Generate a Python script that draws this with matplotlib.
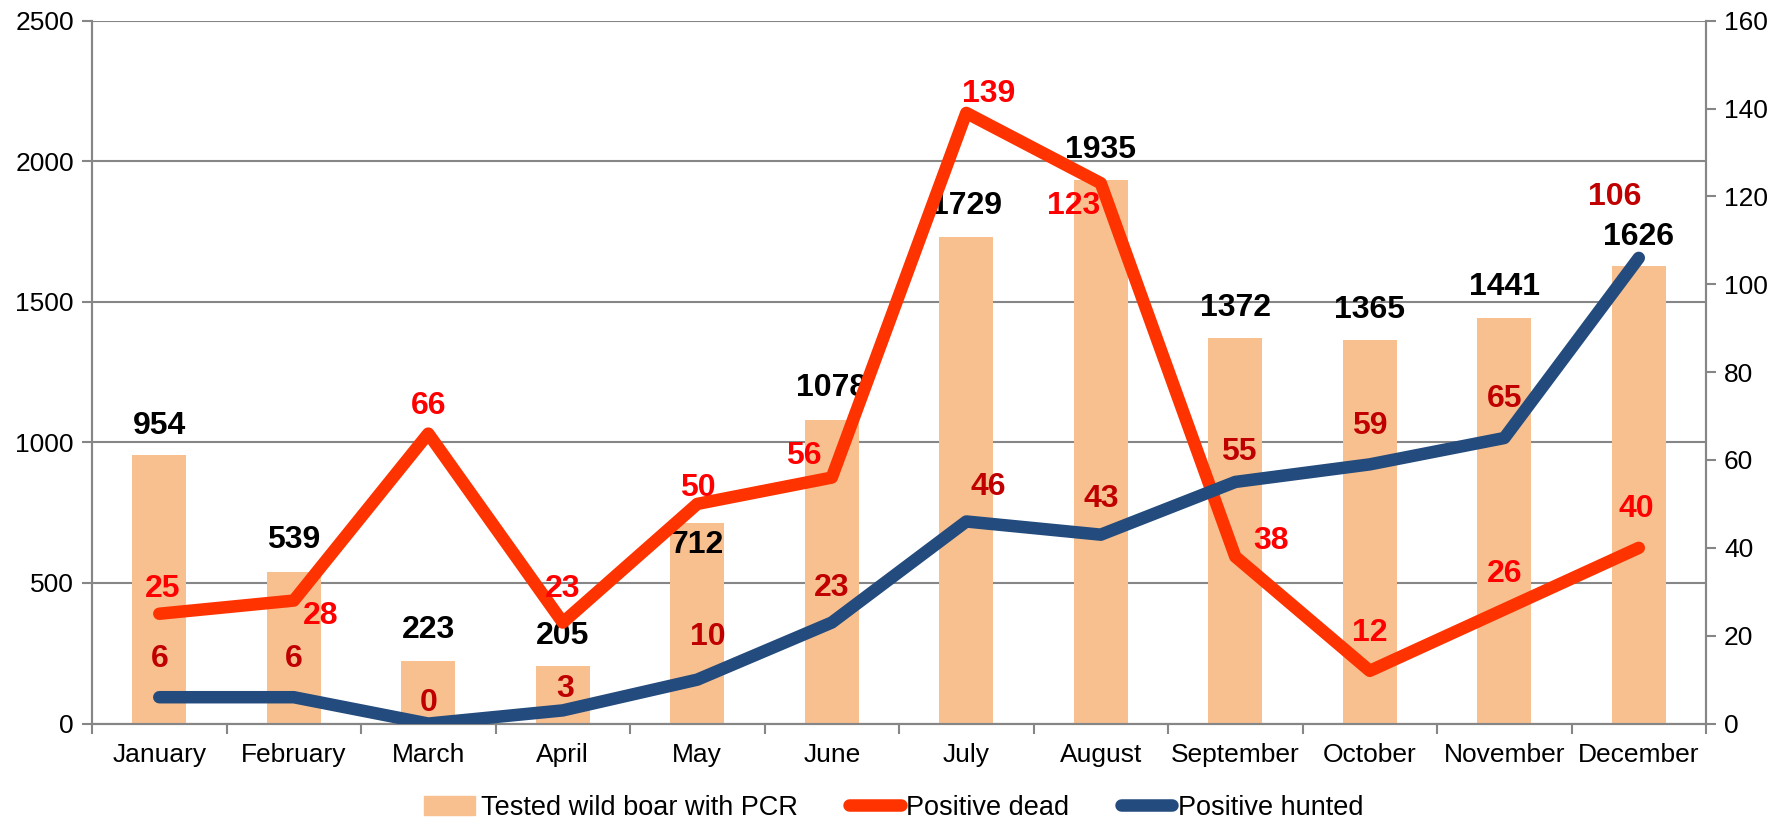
import numpy as np
import matplotlib.pyplot as plt
from matplotlib.lines import Line2D
from matplotlib.patches import Patch

plt.rcParams['font.family'] = ['Liberation Sans', 'DejaVu Sans']

months = ["January", "February", "March", "April", "May", "June",
          "July", "August", "September", "October", "November", "December"]
tested = [954, 539, 223, 205, 712, 1078, 1729, 1935, 1372, 1365, 1441, 1626]
pos_dead = [25, 28, 66, 23, 50, 56, 139, 123, 38, 12, 26, 40]
pos_hunted = [6, 6, 0, 3, 10, 23, 46, 43, 55, 59, 65, 106]

colour_bar = "#F9C08F"
colour_dead = "#FF3300"
colour_hunted = "#234B7D"
colour_grid = "#868686"
colour_lab_dead = "#FF0000"
colour_lab_hunted = "#C00000"

# label offsets in pixels (dx, dy), placed by hand like in the original
tested_off = [(0, 29), (0, 32), (0, 31), (0, 30), (0, -22), (0, 32),
              (0, 31), (0, 30), (0, 30), (0, 30), (0, 31), (0, 29)]
dead_off = [(3, 25), (27, -15), (0, 28), (0, 34), (1, 16), (-28, 22),
            (22, 19), (-27, -23), (36, 16), (0, 38), (0, 35), (-2, 39)]
hunted_off = [(0, 38), (0, 38), (0, 21), (2, 21), (11, 43), (0, 35),
              (22, 34), (0, 36), (3, 30), (0, 38), (0, 39), (-24, 61)]

x = np.arange(len(months))

fig = plt.figure(figsize=(17.87, 8.26), dpi=100)
ax = fig.add_axes([0.0515, 0.124, 0.9032, 0.851])
ax2 = ax.twinx()

ax.bar(x, tested, width=0.4, color=colour_bar, zorder=2)
ax.set_ylim(0, 2500)
ax.set_yticks(np.arange(0, 2501, 500))
ax.set_xlim(-0.5, len(months) - 0.5)
ax.yaxis.grid(True, color=colour_grid, linewidth=1.5, zorder=0)
ax.set_axisbelow(True)

ax.set_xticks(x)
ax.set_xticklabels(months)
ax.set_xticks(np.arange(-0.5, len(months)), minor=True)
ax.tick_params(axis='x', which='major', length=0, labelsize=19, pad=14)
ax.tick_params(axis='x', which='minor', length=7, width=1.5, color=colour_grid)
ax.tick_params(axis='y', length=7, width=1.5, color=colour_grid, labelsize=19, pad=6)

ax2.plot(x, pos_dead, color=colour_dead, lw=9, solid_capstyle='round', solid_joinstyle='round', zorder=3)
ax2.plot(x, pos_hunted, color=colour_hunted, lw=9, solid_capstyle='round', solid_joinstyle='round', zorder=3)
ax2.set_ylim(0, 160)
ax2.set_yticks(np.arange(0, 161, 20))
ax2.tick_params(axis='y', length=7, width=1.5, color=colour_grid, labelsize=19, pad=6)

for a in (ax, ax2):
    for s in a.spines.values():
        s.set_color(colour_grid)
        s.set_linewidth(1.5)
    a.spines['top'].set_visible(False)

for i, v in enumerate(tested):
    ax.annotate(str(v), (x[i], v), xytext=tested_off[i], textcoords='offset pixels',
                ha='center', va='center', fontsize=23, fontweight='bold', color='black', zorder=4)
for i, v in enumerate(pos_dead):
    ax2.annotate(str(v), (x[i], v), xytext=dead_off[i], textcoords='offset pixels',
                 ha='center', va='center', fontsize=23, fontweight='bold', color=colour_lab_dead, zorder=5)
for i, v in enumerate(pos_hunted):
    ax2.annotate(str(v), (x[i], v), xytext=hunted_off[i], textcoords='offset pixels',
                 ha='center', va='center', fontsize=23, fontweight='bold', color=colour_lab_hunted, zorder=5)

handles = [Patch(color=colour_bar, label="Tested wild boar with PCR"),
           Line2D([], [], color=colour_dead, lw=9, solid_capstyle='round', label="Positive dead"),
           Line2D([], [], color=colour_hunted, lw=9, solid_capstyle='round', label="Positive hunted")]
fig.legend(handles=handles, loc='center', bbox_to_anchor=(0.5, 0.022), ncol=3, frameon=False,
           fontsize=19.5, handlelength=1.9, handletextpad=0.2, columnspacing=1.9)

plt.savefig("out.png", dpi=100)
